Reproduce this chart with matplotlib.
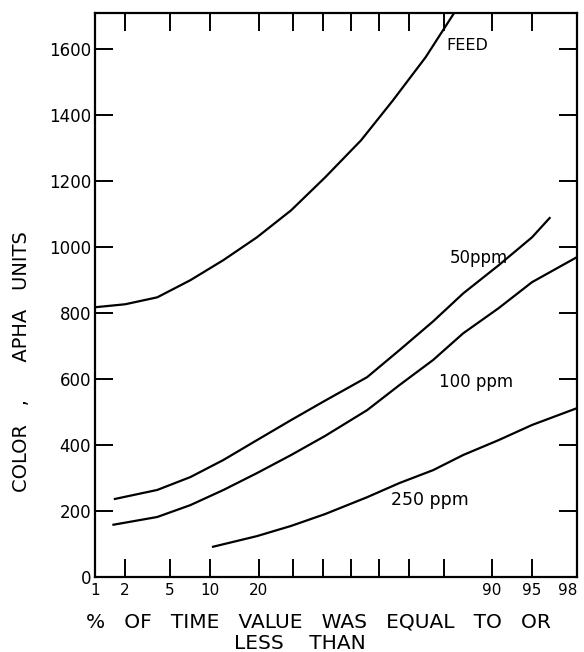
from statistics import NormalDist
import numpy as np
import matplotlib
matplotlib.use('Agg')
import matplotlib.pyplot as plt

# % of time value was equal to or less than  vs  colour (APHA units)
feed_pct = [1, 2, 3.9, 7.2, 12.3, 19.6, 29.3, 40.7, 53.6, 64.8, 75.1, 82.5]
feed_val = [818, 827, 848, 900, 961, 1030, 1112, 1212, 1324, 1445, 1576, 1709]

ppm50_pct = [1.55, 3.9, 7.2, 12.3, 19.6, 29.3, 40.7, 55.8, 67, 77.2, 84.6, 91, 95, 96.5]
ppm50_val = [236, 264, 303, 355, 415, 476, 535, 606, 688, 775, 860, 945, 1030, 1091]

ppm100_pct = [1.5, 3.9, 7.2, 12.3, 19.6, 29.3, 40.7, 55.8, 67, 77.2, 84.6, 91, 95, 98]
ppm100_val = [158, 182, 218, 264, 315, 370, 428, 506, 582, 658, 739, 815, 894, 970]

ppm250_pct = [10.3, 19.6, 29.3, 40.7, 55.8, 67, 77.2, 84.6, 91, 95, 98]
ppm250_val = [91, 124, 155, 191, 242, 285, 324, 370, 415, 461, 512]

x_ticks = [1, 2, 5, 10, 20, 30, 40, 50, 60, 70, 80, 90, 95, 98]
x_labels = ['1', '2', '5', '10', '20', '', '', '', '', '', '', '90', '95', '98']
y_ticks = [0, 200, 400, 600, 800, 1000, 1200, 1400, 1600]

# normal probability scale for the x axis
_nd = NormalDist()
_ppf = np.vectorize(_nd.inv_cdf, otypes=[float])
_cdf = np.vectorize(_nd.cdf, otypes=[float])


def prob_fwd(p):
    p = np.clip(np.asarray(p, dtype=float) / 100.0, 1e-9, 1 - 1e-9)
    return _ppf(p)


def prob_inv(z):
    return _cdf(np.asarray(z, dtype=float)) * 100.0


plt.rcParams['font.family'] = ['DejaVu Sans']

fig = plt.figure(figsize=(5.84, 6.52), dpi=100)
ax = fig.add_axes([0.163, 0.115, 0.825, 0.865])
ax.set_xscale('function', functions=(prob_fwd, prob_inv))

for pct, val in [(feed_pct, feed_val), (ppm50_pct, ppm50_val),
                 (ppm100_pct, ppm100_val), (ppm250_pct, ppm250_val)]:
    ax.plot(pct, val, color='black', linewidth=1.6, solid_capstyle='butt')

ax.set_xlim(1, 98)
ax.set_ylim(0, 1710)

ax.set_xticks(x_ticks)
ax.set_xticklabels(x_labels)
ax.minorticks_off()
ax.set_yticks(y_ticks)

ax.tick_params(axis='both', direction='in', length=13, width=1.4,
               top=True, right=True)
ax.tick_params(axis='x', pad=4, labelsize=11)
ax.tick_params(axis='y', pad=3, labelsize=12)
ax.get_xticklabels()[-1].set_horizontalalignment('right')
for s in ax.spines.values():
    s.set_linewidth(1.6)

ax.text(80.6, 1612, 'FEED', fontsize=11.5, va='center', ha='left')
ax.text(81.5, 967, '50ppm', fontsize=12, va='center', ha='left')
ax.text(78.8, 591, '100 ppm', fontsize=12, va='center', ha='left')
ax.text(64.2, 233, '250 ppm', fontsize=12.5, va='center', ha='left')

fig.text(22 / 584, 1 - 362 / 652, 'COLOR   ,      APHA   UNITS', rotation=90,
         fontsize=14, ha='center', va='center')
fig.text(318 / 584, 1 - 628 / 652, '%   OF   TIME   VALUE   WAS   EQUAL   TO   OR',
         fontsize=14.5, ha='center', va='baseline')
fig.text(300 / 584, 1 - 649 / 652, 'LESS    THAN',
         fontsize=14.5, ha='center', va='baseline')

fig.savefig('out.png', dpi=100)
